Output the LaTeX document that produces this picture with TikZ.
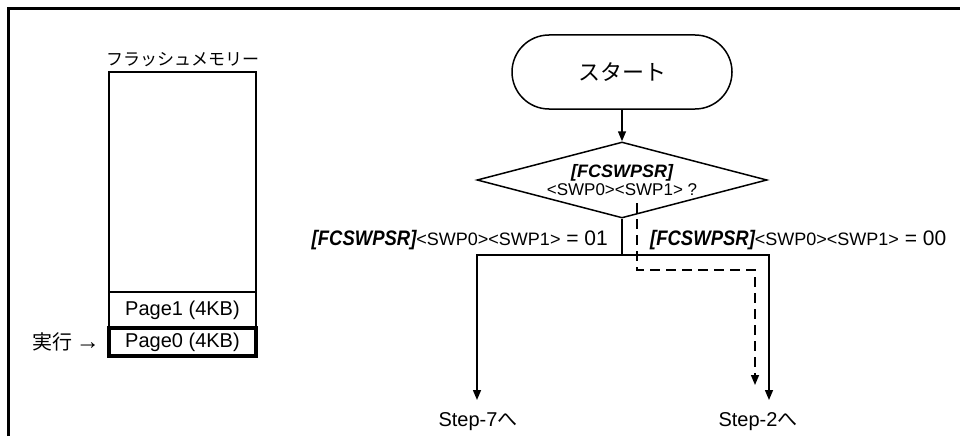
\documentclass[tikz,border=0pt]{standalone}
\usepackage{graphicx}
\usepackage{fontspec}
\setmainfont{Liberation Sans}
\newfontfamily\jp{Noto Sans CJK JP}
\usetikzlibrary{shapes.geometric,arrows.meta}
\newcommand{\regname}{{\fontsize{21}{24}\selectfont\bfseries\itshape\scalebox{0.88}[1]{[FCSWPSR]}}}
\newcommand{\swpbits}{{\fontsize{18}{22}\selectfont <SWP0><SWP1>}}
\begin{document}
\begin{tikzpicture}[x=1pt,y=-1pt,
  thinline/.style={line width=1.5pt},
  tipped/.style={thinline,-{Triangle[length=10pt,width=8pt]}},
  dashtip/.style={thinline,dash pattern=on 10pt off 6pt,-{Triangle[length=10pt,width=8pt]}},
  membox/.style={draw,thinline,rectangle,minimum width=147pt,inner sep=0pt,font=\fontsize{20}{22}\selectfont},
  plain/.style={inner sep=0pt},
]
\useasboundingbox (0,0) rectangle (960,436);
% frame
\coordinate (fbl) at (8.5,436);
\coordinate (ftl) at (8.5,8.5);
\coordinate (ftr) at (960,8.5);
\draw[line width=2.2pt] (fbl) -- (ftl) -- (ftr);

% flash memory
\node[plain,font=\jp\fontsize{17}{20}\selectfont] (memtitle) at (182.5,60) {フラッシュメモリー};
\node[membox,minimum height=220pt] (mem) at (182.5,182) {};
\node[membox,minimum height=36pt] (page1) at (182.5,310) {Page1 (4KB)};
\node[membox,minimum height=28pt,line width=3.2pt] (page0) at (182.5,342) {Page0 (4KB)};
\node[plain,anchor=east,font=\fontsize{20}{22}\selectfont] (exec) at (100,342) {{\jp 実行}\,{\fontsize{24}{24}\selectfont →}};

% flowchart
\node[draw,thinline,rectangle,rounded corners=37pt,minimum width=220pt,minimum height=74pt,
      font=\jp\fontsize{22}{24}\selectfont] (start) at (622,72) {スタート};
\node[draw,thinline,diamond,aspect=3.8,minimum width=290pt,minimum height=76pt,inner sep=0pt,
      align=center] (dec) at (622,180)
  {{\fontsize{18}{20}\selectfont\bfseries\itshape [FCSWPSR]}\\[1pt]{\fontsize{17}{19}\selectfont <SWP0><SWP1> ?}};
\draw[tipped] (start.south) -- (dec.north);

\coordinate (j) at (622,255);
\coordinate (jl) at (477,255);
\coordinate (jr) at (769,255);
\node[plain,font=\fontsize{20}{22}\selectfont] (s7) at (478,422) {Step-7{\jp へ}};
\node[plain,font=\fontsize{20}{22}\selectfont] (s2) at (758,422) {Step-2{\jp へ}};
\coordinate (t7) at (477,400);
\coordinate (t2) at (769,400);
\draw[thinline] (dec.south) -- (j);
\draw[tipped] (j) -- (jl) -- (t7);
\draw[tipped] (j) -- (jr) -- (t2);

\coordinate (d0) at (637,203);
\coordinate (d1) at (637,270);
\coordinate (d2) at (755,270);
\coordinate (d3) at (755,385);
\draw[dashtip] (d0) -- (d1) -- (d2) -- (d3);

\node[plain,anchor=east] (lab01) at (608,240)
  {\regname\swpbits{\fontsize{21}{24}\selectfont{} = 01}};
\node[plain,anchor=west] (lab00) at (650,240)
  {\regname\swpbits{\fontsize{21}{24}\selectfont{} = 00}};
\end{tikzpicture}
\end{document}
